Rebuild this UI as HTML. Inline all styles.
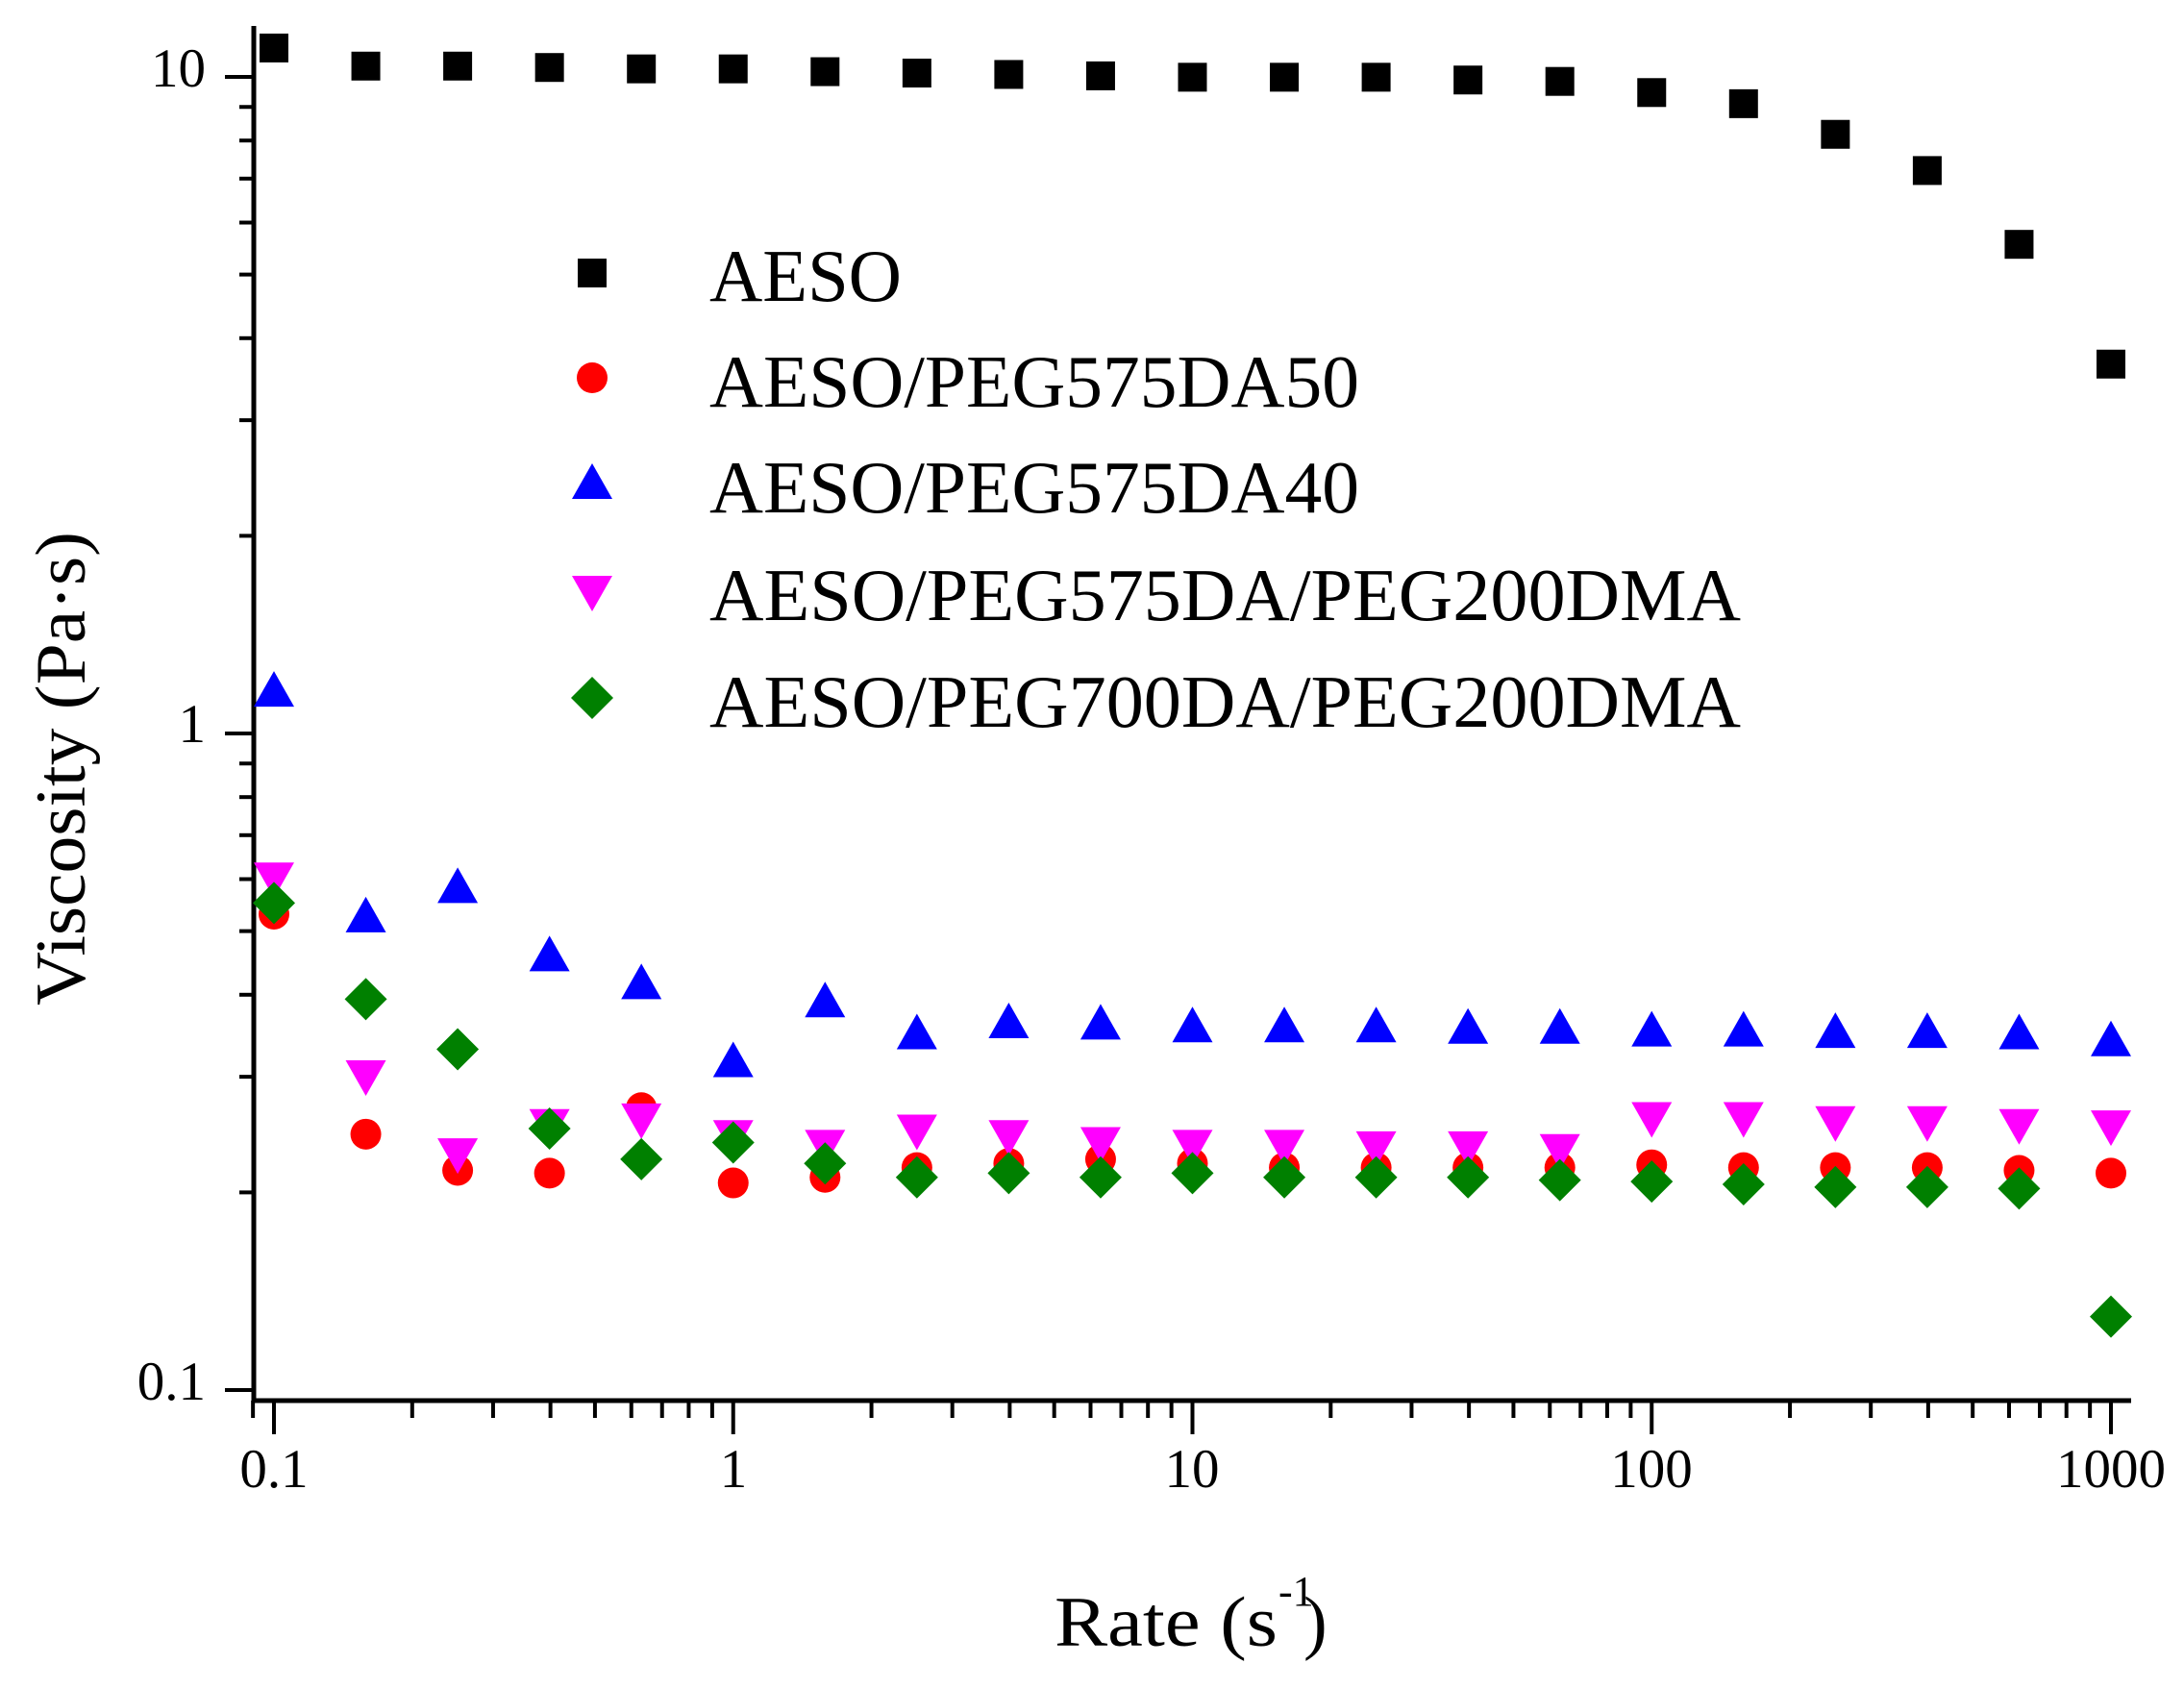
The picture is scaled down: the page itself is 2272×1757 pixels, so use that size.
<!DOCTYPE html>
<html><head><meta charset="utf-8"><style>html,body{margin:0;padding:0;background:#fff}svg{display:block}</style></head>
<body>
<svg id="s" width="2272" height="1757" viewBox="0 0 2272 1757" xmlns="http://www.w3.org/2000/svg" font-family="'Liberation Serif', serif">
<rect width="2272" height="1757" fill="#fff"/>
<g id="axes" stroke="#000" stroke-width="5" fill="none"></g>
<g id="pts"></g>
<g font-size="57" fill="#000">
<text x="214" y="90" text-anchor="end">10</text>
<text x="214" y="772" text-anchor="end">1</text>
<text x="214" y="1456" text-anchor="end">0.1</text>
<text x="285" y="1547" text-anchor="middle">0.1</text>
<text x="763" y="1547" text-anchor="middle">1</text>
<text x="1240" y="1547" text-anchor="middle">10</text>
<text x="1718" y="1547" text-anchor="middle">100</text>
<text x="2196" y="1547" text-anchor="middle">1000</text>
</g>
<text x="1097" y="1712" font-size="74" textLength="232" lengthAdjust="spacingAndGlyphs">Rate (s</text>
<text x="1330" y="1670" font-size="44">-1</text>
<text x="1356" y="1712" font-size="74">)</text>
<text transform="translate(88,1046) rotate(-90)" font-size="74" textLength="493" lengthAdjust="spacingAndGlyphs">Viscosity (Pa·s)</text>
<g font-size="77" fill="#000">
<text x="738" y="313" textLength="200" lengthAdjust="spacingAndGlyphs">AESO</text>
<text x="738" y="423" textLength="676" lengthAdjust="spacingAndGlyphs">AESO/PEG575DA50</text>
<text x="738" y="533" textLength="676" lengthAdjust="spacingAndGlyphs">AESO/PEG575DA40</text>
<text x="738" y="645" textLength="1073" lengthAdjust="spacingAndGlyphs">AESO/PEG575DA/PEG200DMA</text>
<text x="738" y="756" textLength="1073" lengthAdjust="spacingAndGlyphs">AESO/PEG700DA/PEG200DMA</text>
</g>
</svg>
<script>
var NS="http://www.w3.org/2000/svg";
function el(p,t,a){var e=document.createElementNS(NS,t);for(var k in a)e.setAttribute(k,a[k]);p.appendChild(e);return e;}
var ax=document.getElementById('axes'),pts=document.getElementById('pts');
el(ax,'line',{x1:264,y1:27,x2:264,y2:1459});
el(ax,'line',{x1:262,y1:1457,x2:2217,y2:1457});
var X=function(v){return 285+477.75*Math.log10(v/0.1);};
var Y=function(v){return 763-683*Math.log10(v);};
for(var d=-2;d<=3;d++)for(var m=1;m<=9;m++){var v=m*Math.pow(10,d);if(v<0.089||v>1000.1)continue;var x=X(v);if(x<263)x=263;
 el(ax,'line',{x1:x,y1:1457,x2:x,y2:m==1?1492:1475,'stroke-width':4});}
for(var d=-1;d<=1;d++)for(var m=1;m<=9;m++){var v=m*Math.pow(10,d);var y=Y(v);if(y<30||y>1457)continue;
 el(ax,'line',{x1:264,y1:y,x2:m==1?234:249,y2:y,'stroke-width':4});}
function D(d){return 76+(d-52)*1.4486;}
var xs=[];for(var i=0;i<21;i++)xs.push(X(0.1*Math.pow(10,i/5)));
function sq(x,y,c){el(pts,'rect',{x:x-15,y:y-15,width:30,height:30,fill:c});}
function ci(x,y,c){el(pts,'circle',{cx:x,cy:y,r:16,fill:c});}
function tu(x,y,c){el(pts,'polygon',{points:(x-21)+','+(y+16)+' '+(x+21)+','+(y+16)+' '+x+','+(y-21),fill:c});}
function td(x,y,c){el(pts,'polygon',{points:(x-21)+','+(y-16)+' '+(x+21)+','+(y-16)+' '+x+','+(y+21),fill:c});}
function di(x,y,c){el(pts,'polygon',{points:(x-22)+','+y+' '+x+','+(y-22)+' '+(x+22)+','+y+' '+x+','+(y+22),fill:c});}
var S={
 k:[34,47,47,48,49,49,51,52,53,54,55,55,55,57,58,66,74,96,122,175,261],
 r:[656,814,840,842,795,849,845,838,835,832,835,838,838,838,838,836,838,838,838,840,842],
 b:[496,658,637,686,706,762,719,742,734,735,737,737,737,738,738,740,740,741,741,742,747],
 m:[630,772,828,807,803,815,822,811,815,820,822,822,823,823,825,802,802,805,805,807,808],
 g:[648,717,753,810,832,820,835,845,842,845,842,845,845,845,847,848,850,852,852,853,945]};
for(var i=0;i<21;i++){
 ci(xs[i],D(S.r[i]),'#ff0000');
 tu(xs[i],D(S.b[i]),'#0000ff');
 td(xs[i],D(S.m[i]),'#ff00ff');
 di(xs[i],D(S.g[i]),'#008000');
 sq(xs[i],D(S.k[i]),'#000');
}
sq(616,284,'#000');ci(616,393,'#ff0000');tu(616,503,'#0000ff');td(616,615,'#ff00ff');di(616,726,'#008000');
</script>
</body></html>
